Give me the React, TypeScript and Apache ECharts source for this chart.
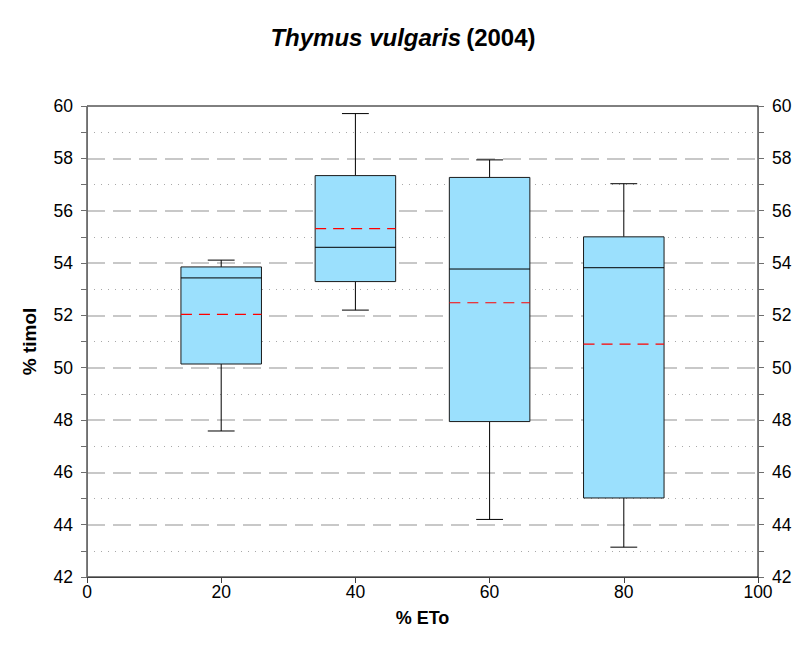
import React, { useEffect, useRef } from "react";
import * as echarts from "echarts";

const etoLevels = [20, 40, 60, 80];
const whiskerLow = [47.58, 52.2, 44.2, 43.14];
const quartile1 = [50.14, 53.29, 47.94, 45.02];
const medians = [53.43, 54.6, 53.77, 53.82];
const quartile3 = [53.85, 57.34, 57.27, 55.0];
const whiskerHigh = [54.11, 59.71, 57.94, 57.03];
const means = [52.04, 55.31, 52.48, 50.9];

const xTicks = [0, 20, 40, 60, 80, 100];
const yMin = 42;
const yMax = 60;

const FONT = "'Liberation Sans', Arial, sans-serif";

export default function App() {
  const ref = useRef<HTMLDivElement>(null);
  useEffect(() => {
    document.body.style.margin = "0";
    if (!ref.current) return;
    const chart = echarts.init(ref.current, null, { renderer: "svg" });
    const data = etoLevels.map((x, i) => [
      x,
      whiskerLow[i],
      quartile1[i],
      medians[i],
      quartile3[i],
      whiskerHigh[i],
      means[i],
    ]);
    const yAxisCommon = {
      type: "value",
      min: yMin,
      max: yMax,
      interval: 2,
      axisLine: { show: true, lineStyle: { color: "#6e6e6e", width: 1 } },
      axisTick: { show: true, inside: false, length: 6, lineStyle: { color: "#6e6e6e" } },
      minorTick: { show: true, splitNumber: 2, length: 6, lineStyle: { color: "#6e6e6e" } },
      axisLabel: { fontSize: 17.5, color: "#000", fontFamily: FONT, margin: 14 },
    };
    const option: any = {
      animation: false,
      backgroundColor: "#fff",
      title: {
        text: "{i|Thymus vulgaris} {b|(2004)}",
        left: 398,
        textAlign: "center",
        top: 20,
        textStyle: {
          rich: {
            i: { fontSize: 24, fontWeight: "bold", fontStyle: "italic", fontFamily: FONT, color: "#000" },
            b: { fontSize: 24, fontWeight: "bold", fontFamily: FONT, color: "#000" },
          },
        },
      },
      grid: {
        left: 87,
        right: 40,
        top: 106,
        bottom: 76,
        show: true,
        borderColor: "#000",
        borderWidth: 1,
        backgroundColor: "transparent",
      },
      xAxis: {
        type: "value",
        min: xTicks[0],
        max: xTicks[xTicks.length - 1],
        interval: 20,
        name: "% ETo",
        nameLocation: "middle",
        nameGap: 32,
        nameTextStyle: { fontSize: 18, fontWeight: "bold", fontFamily: FONT, color: "#000" },
        axisLine: { show: true, lineStyle: { color: "#404040", width: 1 } },
        axisTick: { show: true, length: 6, lineStyle: { color: "#404040" } },
        axisLabel: { fontSize: 17.5, color: "#000", fontFamily: FONT, margin: 6 },
        splitLine: { show: false },
      },
      yAxis: [
        {
          ...yAxisCommon,
          position: "left",
          name: "% timol",
          nameLocation: "middle",
          nameGap: 48,
          nameTextStyle: { fontSize: 19, fontWeight: "bold", fontFamily: FONT, color: "#000" },
          splitLine: {
            show: true,
            showMinLine: false,
            showMaxLine: false,
            lineStyle: { color: "#c8c8c8", width: 2, type: [18, 8] },
          },
          minorSplitLine: { show: true, lineStyle: { color: "#a8a8a8", width: 1, type: [1, 6] } },
        },
        {
          ...yAxisCommon,
          position: "right",
          splitLine: { show: false },
          minorSplitLine: { show: false },
        },
      ],
      series: [
        {
          type: "custom",
          xAxisIndex: 0,
          yAxisIndex: 0,
          data,
          renderItem: (params: any, api: any) => {
            const x = api.value(0);
            const lo = api.value(1);
            const q1 = api.value(2);
            const med = api.value(3);
            const q3 = api.value(4);
            const hi = api.value(5);
            const mean = api.value(6);
            const c = (vx: number, vy: number) => api.coord([vx, vy]);
            const boxL = c(x - 6, q3);
            const boxR = c(x + 6, q1);
            const lineStyle = { stroke: "#000", lineWidth: 1 };
            const seg = (a: number[], b: number[], style: any = lineStyle) => ({
              type: "line",
              shape: { x1: a[0], y1: a[1], x2: b[0], y2: b[1] },
              style,
            });
            return {
              type: "group",
              children: [
                seg(c(x, q3), c(x, hi)),
                seg(c(x - 2, hi), c(x + 2, hi)),
                seg(c(x, q1), c(x, lo)),
                seg(c(x - 2, lo), c(x + 2, lo)),
                {
                  type: "rect",
                  shape: {
                    x: boxL[0],
                    y: boxL[1],
                    width: boxR[0] - boxL[0],
                    height: boxR[1] - boxL[1],
                  },
                  style: { fill: "#9be0fd", stroke: "#1a1a1a", lineWidth: 1 },
                },
                seg(c(x - 6, med), c(x + 6, med)),
                seg(c(x - 6, mean), c(x + 6, mean), {
                  stroke: "#ff0000",
                  lineWidth: 1.2,
                  lineDash: [11, 7],
                }),
              ],
            };
          },
        },
      ],
    };
    chart.setOption(option);
    return () => chart.dispose();
  }, []);
  return <div ref={ref} style={{ width: 798, height: 653 }} />;
}
